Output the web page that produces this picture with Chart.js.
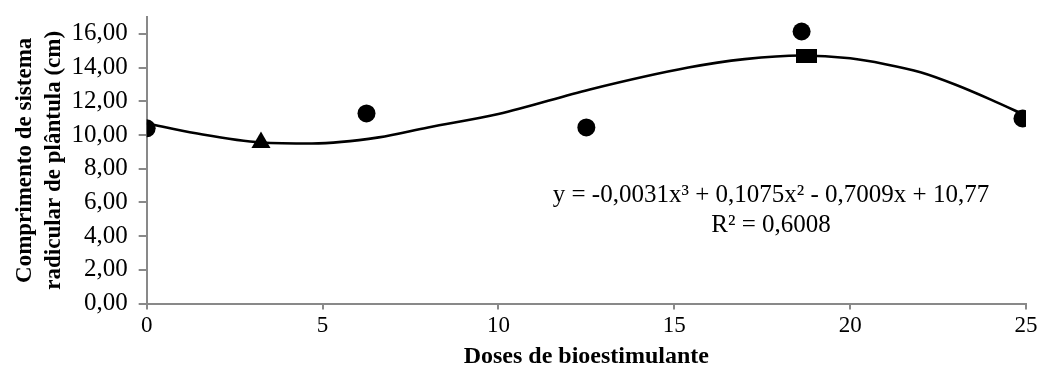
<!DOCTYPE html>
<html>
<head>
<meta charset="utf-8">
<script src="https://cdn.jsdelivr.net/npm/chart.js@4"></script>
<style>
  html, body { margin: 0; padding: 0; background: #ffffff; }
  #wrap { width: 1037px; height: 367px; position: relative; }
</style>
</head>
<body>
<div id="wrap"><canvas id="c" width="1037" height="367"></canvas></div>
<script>
// ---- data ----
const circleDoses  = [0, 6.25, 12.5, 18.62, 24.9];
const circleValues = [10.4, 11.28, 10.45, 16.14, 10.98];
const triangleDoses  = [3.25];
const triangleValues = [9.56];
const squareDoses  = [18.77];
const squareValues = [14.7];
// trend curve
const trendDoses  = [0, 1.4, 3.25, 4.7, 6.6, 8, 10, 12.6, 15.4, 17, 18.6, 20, 21, 22, 23, 24, 25];
const trendValues = [10.7, 10.1, 9.56, 9.5, 9.86, 10.45, 11.24, 12.7, 14.0, 14.5, 14.72, 14.55, 14.2, 13.72, 12.98, 12.1, 11.15];
const xTicks = [0, 5, 10, 15, 20, 25];
const yTicks = [0, 2, 4, 6, 8, 10, 12, 14, 16];
const equationLines = ['y = -0,0031x³ + 0,1075x² - 0,7009x + 10,77', 'R² = 0,6008'];
const xTitle = 'Doses de bioestimulante';
const yTitle = ['Comprimento de sistema', 'radicular de plântula (cm)'];

const toPts = (xs, ys) => xs.map((x, i) => ({ x: x, y: ys[i] }));

// rectangular marker image (the square marker in the reference is wider than tall)
const sq = document.createElement('canvas');
sq.width = 21; sq.height = 14;
const sctx = sq.getContext('2d');
sctx.fillStyle = '#000';
sctx.fillRect(0, 0, 21, 14);

const FONT = "'Liberation Serif', 'Times New Roman', serif";
const AXIS = '#898989';

const equationPlugin = {
  id: 'equation',
  afterDatasetsDraw(chart) {
    const { ctx, scales } = chart;
    const cx = scales.x.getPixelForValue(17.75);
    const y1 = scales.y.getPixelForValue(6.4);
    const y2 = scales.y.getPixelForValue(4.62);
    ctx.save();
    ctx.fillStyle = '#000';
    ctx.font = "25px " + FONT;
    ctx.textAlign = 'center';
    ctx.textBaseline = 'middle';
    ctx.fillText(equationLines[0], cx, y1);
    ctx.fillText(equationLines[1], cx, y2);
    ctx.restore();
  }
};

new Chart(document.getElementById('c'), {
  type: 'scatter',
  data: {
    datasets: [
      {
        label: 'trend',
        data: toPts(trendDoses, trendValues),
        showLine: true,
        borderColor: '#000',
        borderWidth: 2.6,
        pointRadius: 0,
        cubicInterpolationMode: 'monotone',
        order: 2
      },
      {
        label: 'circles',
        data: toPts(circleDoses, circleValues),
        pointStyle: 'circle',
        pointRadius: 9,
        pointBackgroundColor: '#000',
        pointBorderWidth: 0,
        order: 1
      },
      {
        label: 'triangle',
        data: toPts(triangleDoses, triangleValues),
        pointStyle: 'triangle',
        pointRadius: 11,
        pointBackgroundColor: '#000',
        pointBorderWidth: 0,
        order: 1
      },
      {
        label: 'square',
        data: toPts(squareDoses, squareValues),
        pointStyle: sq,
        pointRadius: 10,
        order: 1
      }
    ]
  },
  options: {
    responsive: false,
    animation: false,
    layout: { padding: { top: 17, left: 10, right: 11, bottom: -4 } },
    plugins: {
      legend: { display: false },
      tooltip: { enabled: false }
    },
    scales: {
      x: {
        type: 'linear',
        min: 0, max: 25,
        afterBuildTicks: (s) => { s.ticks = xTicks.map(v => ({ value: v })); },
        afterFit: (s) => { s.paddingLeft = 0; s.paddingRight = 0; },
        grid: { drawOnChartArea: false, drawTicks: true, tickLength: 6, color: AXIS, lineWidth: 2 },
        border: { color: AXIS, width: 2 },
        ticks: { color: '#000', font: { family: FONT, size: 23 }, padding: 3, maxRotation: 0 },
        title: { display: true, text: xTitle, color: '#000', font: { family: FONT, size: 24, weight: 'bold' }, padding: { top: -1, bottom: 0 } }
      },
      y: {
        type: 'linear',
        min: 0, max: 17,
        afterBuildTicks: (s) => { s.ticks = yTicks.map(v => ({ value: v })); },
        afterFit: (s) => { s.paddingTop = 0; s.paddingBottom = 0; },
        grid: { drawOnChartArea: false, drawTicks: true, tickLength: 8, color: AXIS, lineWidth: 2 },
        border: { color: AXIS, width: 2 },
        ticks: {
          color: '#000', font: { family: FONT, size: 25 }, padding: 11,
          callback: (v) => Number(v).toFixed(2).replace('.', ',')
        },
        title: { display: true, text: yTitle, color: '#000', font: { family: FONT, size: 23, weight: 'bold', lineHeight: 1.27 }, padding: { top: 0, bottom: -8 } }
      }
    }
  },
  plugins: [equationPlugin]
});
</script>
</body>
</html>
